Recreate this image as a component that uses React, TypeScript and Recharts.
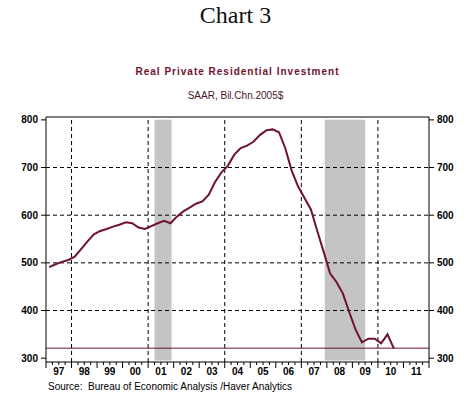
import {
  ComposedChart,
  Line,
  XAxis,
  YAxis,
  ReferenceArea,
  ReferenceLine,
} from 'recharts'

// quarterly, 1997Q1 .. 2010Q3
const quarters: string[] = []
for (let y = 1997; y <= 2010; y++) {
  for (let q = 1; q <= 4; q++) {
    if (y === 2010 && q === 4) break
    quarters.push(`${y}Q${q}`)
  }
}

const investment = [
  491, 497, 502, 506,
  513, 529, 545, 560,
  567, 571, 576, 580,
  585, 583, 574, 571,
  577, 583, 588, 583,
  597, 608, 616, 624,
  629, 643, 670, 690,
  704, 727, 741, 746,
  754, 768, 778, 780,
  774, 740, 693, 660,
  636, 612, 567, 523,
  478, 460, 436, 397,
  360, 333, 341, 341,
  331, 350, 320,
]

const recessions: [number, number][] = [
  [2001.25, 2001.917],
  [2007.917, 2009.5],
]

const gridYears = [1998, 2001, 2004, 2007, 2010]
const gridValues = [400, 500, 600, 700]
const yTicks = [300, 400, 500, 600, 700, 800]
const lastValue = 321

const xTicks: number[] = []
for (let y = 1997; y <= 2012; y += 0.25) xTicks.push(y)

const data = quarters.map((q, i) => ({
  t: Number(q.slice(0, 4)) + (Number(q.slice(5)) - 0.5) / 4,
  v: investment[i],
}))

const MAROON = '#6e1232'
const Y_DOMAIN: [number, number] = [292, 806]

const QuarterTick = (props: any) => {
  const { x, y, payload } = props
  const v = payload.value as number
  const frac = Math.round((v - Math.floor(v)) * 4)
  const len = frac === 0 ? 6 : 3
  return (
    <g>
      <line x1={x} x2={x} y1={y} y2={y + len} stroke="#000" strokeWidth={1} />
      {frac === 2 && (
        <text
          x={x}
          y={y + 13}
          textAnchor="middle"
          fontFamily="Liberation Sans, Arial, sans-serif"
          fontWeight="bold"
          fontSize={10}
          fill="#000"
        >
          {String(Math.floor(v)).slice(2)}
        </text>
      )}
    </g>
  )
}

const yTickStyle = {
  fill: '#000',
  fontSize: 10,
  fontWeight: 'bold' as const,
  fontFamily: 'Liberation Sans, Arial, sans-serif',
}

export default function App() {
  return (
    <div style={{ position: 'absolute', left: 0, top: 0, width: 471, height: 395, background: '#fff' }}>
      <div
        style={{
          position: 'absolute', left: 0, width: 471, top: 2, textAlign: 'center',
          fontFamily: 'Liberation Serif, Times New Roman, serif', fontSize: 24, color: '#111',
        }}
      >
        Chart 3
      </div>
      <div
        style={{
          position: 'absolute', left: 2, width: 471, top: 66, textAlign: 'center',
          fontFamily: 'Liberation Sans, Arial, sans-serif', fontSize: 10, fontWeight: 'bold',
          letterSpacing: 1, color: MAROON,
        }}
      >
        Real Private Residential Investment
      </div>
      <div
        style={{
          position: 'absolute', left: 0, width: 471, top: 90, textAlign: 'center',
          fontFamily: 'Liberation Sans, Arial, sans-serif', fontSize: 10, color: '#4a1626',
        }}
      >
        SAAR, Bil.Chn.2005$
      </div>
      <div
        style={{
          position: 'absolute', left: 48, top: 381,
          fontFamily: 'Liberation Sans, Arial, sans-serif', fontSize: 10, color: '#000',
          whiteSpace: 'pre',
        }}
      >
        {'Source:  Bureau of Economic Analysis /Haver Analytics'}
      </div>
      <ComposedChart
        width={471}
        height={395}
        data={data}
        margin={{ top: 117, right: 0, bottom: 0, left: 0 }}
        style={{ position: 'absolute', left: 0, top: 0 }}
      >
        <XAxis
          dataKey="t"
          type="number"
          domain={[1997, 2012]}
          ticks={xTicks}
          interval={0}
          tick={<QuarterTick />}
          tickLine={false}
          tickSize={0}
          tickMargin={0}
          height={33}
          axisLine={{ stroke: '#000' }}
          allowDataOverflow
        />
        <YAxis
          yAxisId="left"
          domain={Y_DOMAIN}
          ticks={yTicks}
          width={46}
          tick={yTickStyle}
          tickSize={5}
          tickMargin={3}
          tickLine={{ stroke: '#000' }}
          axisLine={{ stroke: '#000' }}
          allowDataOverflow
        />
        <YAxis
          yAxisId="right"
          orientation="right"
          domain={Y_DOMAIN}
          ticks={yTicks}
          width={42}
          tick={yTickStyle}
          tickSize={5}
          tickMargin={3}
          tickLine={{ stroke: '#000' }}
          axisLine={{ stroke: '#000' }}
          allowDataOverflow
        />
        {recessions.map(([a, b]) => (
          <ReferenceArea
            key={a}
            yAxisId="left"
            x1={a}
            x2={b}
            y1={295}
            y2={800}
            fill="#c4c4c4"
            fillOpacity={1}
            stroke="none"
          />
        ))}
        {gridValues.map((v) => (
          <ReferenceLine key={v} yAxisId="left" y={v} stroke="#000" strokeDasharray="4 3" />
        ))}
        {gridYears.map((yr) => (
          <ReferenceLine key={yr} yAxisId="left" x={yr} stroke="#000" strokeDasharray="4 3" />
        ))}
        <ReferenceLine yAxisId="left" y={806} stroke="#000" />
        <ReferenceLine yAxisId="left" y={lastValue} stroke={MAROON} strokeWidth={1} />
        <Line
          yAxisId="left"
          type="linear"
          dataKey="v"
          stroke={MAROON}
          strokeWidth={2}
          dot={false}
          isAnimationActive={false}
        />
      </ComposedChart>
    </div>
  )
}
